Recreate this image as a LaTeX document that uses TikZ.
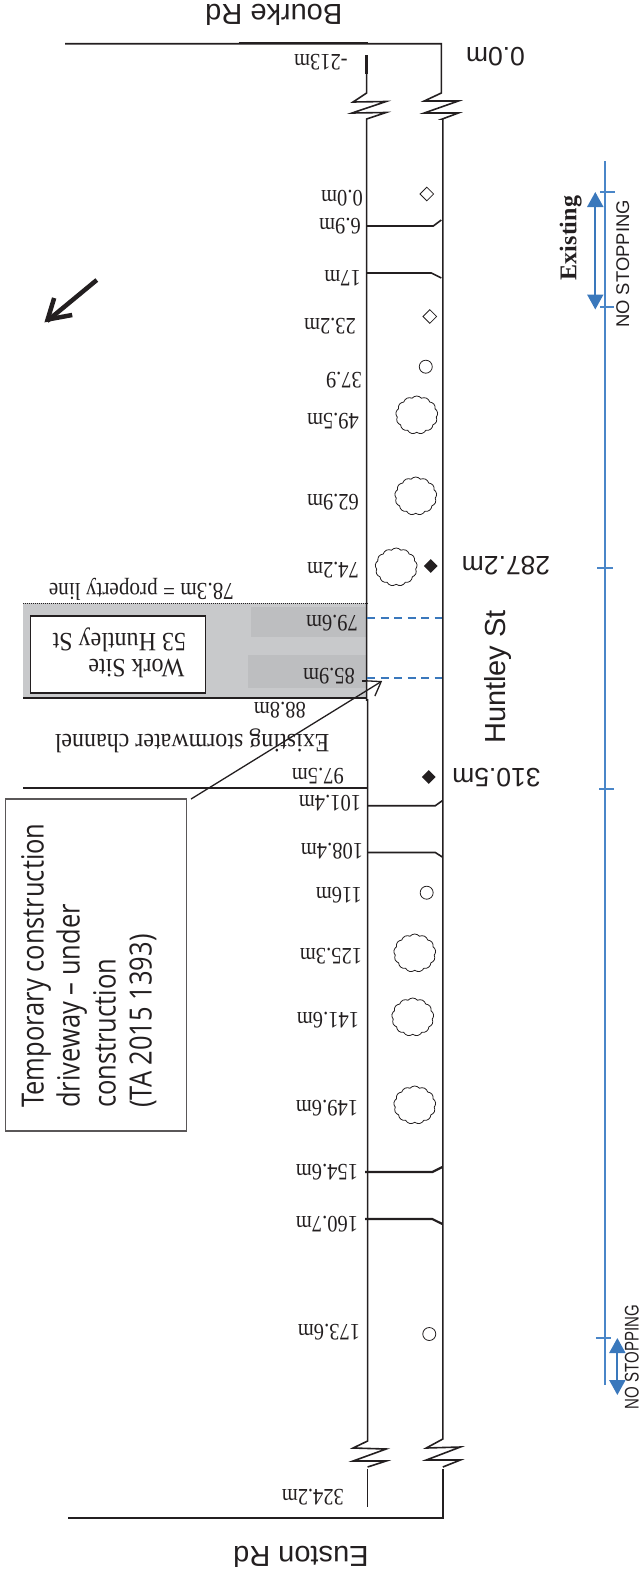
\documentclass[tikz,border=0pt]{standalone}
\usepackage{fontspec}
\setmainfont{Liberation Serif}
\setsansfont{Liberation Sans}
\newfontfamily\calloutfont{Open Sans}
\usetikzlibrary{arrows.meta,shapes.geometric,shapes.symbols}
\definecolor{ink}{HTML}{231F20}
\definecolor{lineblue}{HTML}{4A86C8}
\definecolor{arrowblue}{HTML}{3A78BC}
\definecolor{sitegrey}{HTML}{C8C9CB}
\definecolor{patchgrey}{HTML}{BDBEC0}
\tikzset{
  road/.style={draw=ink,line width=1.6pt,line join=miter},
  heavy/.style={draw=ink,line width=2.4pt},
  dist/.style={rotate=180,yscale=1.15,inner sep=0pt,text=ink,font=\fontsize{20.5}{24}\selectfont},
  distwide/.style={rotate=180,yscale=1.1,inner sep=0pt,text=ink,font=\fontsize{24}{28}\selectfont},
  streetlabel/.style={rotate=180,inner sep=0pt,text=ink,font=\sffamily\fontsize{29}{32}\selectfont},
  chain/.style={rotate=180,inner sep=0pt,text=ink,font=\sffamily\fontsize{26.5}{30}\selectfont},
  tree/.style={cloud,draw=ink,line width=.8pt,cloud puffs=13,cloud puff arc=100,cloud ignores aspect,minimum width=42pt,minimum height=38pt,inner sep=0pt},
  opendia/.style={diamond,draw=ink,line width=.8pt,minimum size=14pt,inner sep=0pt},
  soliddia/.style={diamond,fill=ink,minimum size=14pt,inner sep=0pt},
  post/.style={circle,draw=ink,line width=.8pt,minimum size=13pt,inner sep=0pt},
  bluetick/.style={draw=lineblue,line width=1.4pt},
  bluearrow/.style={draw=arrowblue,line width=2pt,{Triangle[length=15pt,width=16pt]}-{Triangle[length=15pt,width=16pt]}},
  baydash/.style={draw=arrowblue,line width=1.8pt,dash pattern=on 8pt off 5.5pt},
}
\begin{document}
\begin{tikzpicture}[x=1.003pt,y=-1pt]
\useasboundingbox (0,0) rectangle (642.07,1574);
% work site
\fill[sitegrey] (23,603) rectangle (366,698);
\fill[patchgrey] (250,607) rectangle (366,637);
\fill[patchgrey] (247,655) rectangle (366,688);
\draw[ink,line width=1pt,densely dotted] (23,603) -- (366,603);
\draw[heavy] (23,698) -- (366,698);
\node[draw=ink,line width=1.1pt,fill=white,minimum width=175pt,minimum height=77pt,inner sep=0pt] (site) at (117.5,654.5) {};
\node[distwide] (siteA) at (136,668) {Work Site};
\node[distwide] (siteB) at (119,640) {53 Huntley St};
% road edges
\draw[road] (65,43.7) -- (440,43.7) -- (440,93) -- (423,101) -- (457,101) -- (423,113) -- (457,113) -- (441,119) -- (441.5,119) -- (441.5,1439) -- (425,1448) -- (459,1447) -- (425,1460) -- (459,1460) -- (441.5,1467);
\draw[road] (441.5,1469) -- (441.5,1518) -- (68,1518);
\draw[heavy] (238,43.2) -- (367,43.2);
\draw[road] (365.5,55) -- (365.5,93) -- (352,102) -- (385,101.5) -- (351,113) -- (385,112.5) -- (365.5,119) -- (365.5,700) -- (366.5,700) -- (366.5,1441) -- (352,1448) -- (385,1449) -- (352,1461) -- (385,1461) -- (366.5,1467);
\draw[road] (366.5,1469) -- (366.5,1507);
\draw[heavy] (365.5,55) -- (365.5,74);
% driveways
\draw[road] (365.5,226) -- (432,226) -- (440,220);
\draw[road] (365.5,273) -- (430,273) -- (440,278);
\draw[road] (366,805.7) -- (434,805.7) -- (441,800.7);
\draw[road] (366,852.5) -- (434,852.5) -- (441,857);
\draw[road,line width=2.2pt] (364,1172) -- (431,1172) -- (441,1167);
\draw[road,line width=2.2pt] (364,1219) -- (431,1219) -- (441,1224);
% channel
\draw[road,line width=1.8pt] (23,788) -- (366,788);
\draw[heavy] (235,787.7) -- (366,787.7);
% bays
\draw[baydash] (366,618) -- (441,618);
\draw[baydash] (366,678) -- (441,678);
\draw[ink,line width=1.5pt] (361,681) -- (366,681);
% callout
\node[draw=ink!75,line width=1.1pt,fill=white,minimum width=181.5pt,minimum height=332pt,inner sep=0pt] (callout) at (95.75,965) {};
\node[rotate=90,anchor=west,yscale=1.2,inner sep=0pt,align=left,text=ink,font=\calloutfont\fontsize{25.5}{30}\selectfont] (calloutText) at (88.5,1108) {Temporary construction\\driveway – under\\construction\\(TA 2015 1393)};
\coordinate (drivewayTip) at (381,681);
\draw[ink,line width=1.3pt,-{Straight Barb[length=13pt,width=18pt]}] (190.5,799) -- (drivewayTip);
% north arrow
\coordinate (northTail) at (96.5,280);
\coordinate (northTip) at (47,321);
\draw[ink,line width=4.5pt] (northTail) -- (northTip);
\draw[ink,line width=4.5pt,miter limit=10] (54,298) -- (47.5,319.5) -- (72,315);
% chainage labels
\node[dist] (dA) at (320,62.5) {-213m};
\node[dist] (dB) at (341,198) {0.0m};
\node[dist] (dC) at (339,226) {6.9m};
\node[dist] (dD) at (341.5,278) {17m};
\node[dist] (dE) at (329,326) {23.2m};
\node[dist] (dF) at (343,380) {37.9};
\node[dist] (dG) at (332,421) {49.5m};
\node[dist] (dH) at (332,502) {62.9m};
\node[dist] (dI) at (332,570) {74.2m};
\node[dist,font=\fontsize{21.2}{24}\selectfont] (dJ) at (141,589) {78.3m = property line};
\node[dist] (dK) at (331,623) {79.6m};
\node[dist] (dL) at (328,676) {85.9m};
\node[dist] (dM) at (279,710) {88.8m};
\node[distwide] (dN) at (191.6,741) {Existing stormwater channel};
\node[dist] (dO) at (317,776) {97.5m};
\node[dist] (dP) at (329,803) {101.4m};
\node[dist] (dQ) at (331,851) {108.4m};
\node[dist] (dR) at (338,895) {116m};
\node[dist] (dS) at (330,956) {125.3m};
\node[dist] (dT) at (327,1020) {141.6m};
\node[dist] (dU) at (326,1108) {149.6m};
\node[dist] (dV) at (326,1172) {154.6m};
\node[dist] (dW) at (326,1224) {160.7m};
\node[dist] (dX) at (328,1332) {173.6m};
\node[dist] (dY) at (312,1497) {324.2m};
% street labels
\node[streetlabel] (bourke) at (273,14.5) {Bourke Rd};
\node[streetlabel] (euston) at (300,1557) {Euston Rd};
\node[chain] (ch0) at (494,57) {0.0m};
\node[chain] (ch1) at (504.5,566) {287.2m};
\node[chain] (ch2) at (495,778) {310.5m};
\node[rotate=90,inner sep=0pt,text=ink,font=\sffamily\fontsize{29}{32}\selectfont] (huntley) at (497,677) {Huntley St};
% furniture
\node[tree] (t1) at (415.5,415) {};
\node[tree] (t2) at (414.5,496) {};
\node[tree] (t3) at (395,567) {};
\node[tree] (t4) at (413.5,953) {};
\node[tree] (t5) at (411.5,1017) {};
\node[tree] (t6) at (413.5,1105) {};
\node[opendia] (m1) at (425.5,194) {};
\node[opendia] (m2) at (428.5,316.5) {};
\node[soliddia] (m3) at (429.5,566) {};
\node[soliddia] (m4) at (427.5,777) {};
\node[post] (p1) at (424.5,366.7) {};
\node[post] (p2) at (425.4,892.7) {};
\node[post] (p3) at (428,1334) {};
% parking line
\coordinate (lineTop) at (603,161);
\coordinate (lineEnd) at (603,1385);
\draw[bluetick] (lineTop) -- (lineEnd);
\draw[bluetick] (598,192) -- (613,192);
\draw[bluetick] (598,307) -- (612,307);
\draw[bluetick] (595.5,568) -- (611,568);
\draw[bluetick] (597.5,789) -- (612,789);
\draw[bluetick] (594,1338) -- (609.5,1338);
\coordinate (arrA1) at (593.5,192);
\coordinate (arrA2) at (593.5,309.5);
\coordinate (arrB1) at (615.5,1338);
\coordinate (arrB2) at (615.5,1395);
\draw[bluearrow] (arrA1) -- (arrA2);
\draw[bluearrow] (arrB1) -- (arrB2);
\node[rotate=90,inner sep=0pt,text=ink,font=\bfseries\fontsize{24}{26}\selectfont] (existing) at (569,238) {Existing};
\node[rotate=90,inner sep=0pt,text=ink,font=\sffamily\fontsize{18.4}{22}\selectfont] (ns1) at (621,264) {NO STOPPING};
\node[rotate=90,xscale=.8,yscale=1.05,inner sep=0pt,text=ink,font=\sffamily\fontsize{18.8}{22}\selectfont] (ns2) at (630,1357) {NO STOPPING};
\end{tikzpicture}
\end{document}
